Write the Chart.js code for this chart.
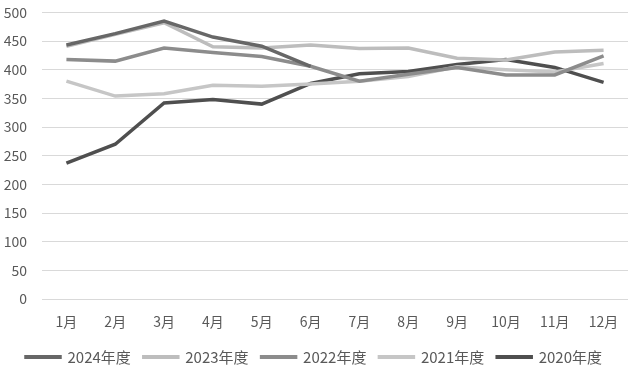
<!DOCTYPE html>
<html>
<head>
<meta charset="utf-8">
<script src="https://cdn.jsdelivr.net/npm/chart.js@4/dist/chart.umd.min.js"></script>
<style>
html,body{margin:0;padding:0;background:#fff;}
#wrap{width:634px;height:370px;position:relative;overflow:hidden;}
#c{position:absolute;left:0;top:-11px;}
</style>
</head>
<body>
<div id="wrap"><canvas id="c" width="634" height="381"></canvas></div>
<script>
const categories = ['1月','2月','3月','4月','5月','6月','7月','8月','9月','10月','11月','12月'];
const seriesNames = ['2024年度','2023年度','2022年度','2021年度','2020年度'];
const s2024 = [443, 463, 485, 457, 441, 406, null, null, null, null, null, null];
const s2023 = [441, 462, 482, 440, 438, 443, 437, 438, 420, 417, 431, 434];
const s2022 = [418, 415, 438, 430, 423, 406, 380, 392, 404, 391, 391, 424];
const s2021 = [380, 354, 358, 373, 371, 375, 380, 388, 405, 400, 396, 411];
const s2020 = [237, 270, 342, 348, 340, 376, 393, 397, 409, 418, 404, 378];
const yTicks = [0, 50, 100, 150, 200, 250, 300, 350, 400, 450, 500];

const colors = ['#676767', '#bdbdbd', '#8c8c8c', '#c6c6c6', '#4f4f4f'];
const allSeries = [s2024, s2023, s2022, s2021, s2020];
const FONT = '"Noto Sans CJK SC", "Noto Sans", sans-serif';

const datasets = allSeries.map((d, i) => ({
  label: seriesNames[i],
  data: d,
  borderColor: colors[i],
  backgroundColor: colors[i],
  borderWidth: 3.5,
  pointRadius: 0,
  tension: 0,
  spanGaps: false,
  fill: false
}));

new Chart(document.getElementById('c'), {
  type: 'line',
  data: { labels: categories, datasets },
  options: {
    responsive: false,
    animation: false,
    devicePixelRatio: 1,
    layout: { padding: { left: 0, right: 6, top: 0, bottom: -4.5 } },
    plugins: {
      legend: {
        position: 'bottom',
        labels: {
          boxWidth: 34,
          boxHeight: 0.5,
          padding: 13,
          color: '#595959',
          font: { family: FONT, size: 15 }
        }
      },
      tooltip: { enabled: false }
    },
    scales: {
      x: {
        offset: true,
        grid: { display: false, drawTicks: false },
        border: { display: false },
        afterFit: (axis) => { axis.height = 37.5; },
        ticks: { color: '#595959', font: { family: FONT, size: 14 }, padding: 14, maxRotation: 0 }
      },
      y: {
        min: 0,
        max: 500,
        afterBuildTicks: (axis) => { axis.ticks = yTicks.map(v => ({ value: v })); },
        afterFit: (axis) => { axis.width = 42; },
        grid: { color: '#d9d9d9', lineWidth: 1, drawTicks: false },
        border: { display: false },
        ticks: { color: '#595959', font: { family: FONT, size: 14 }, padding: 15 }
      }
    }
  }
});
</script>
</body>
</html>
